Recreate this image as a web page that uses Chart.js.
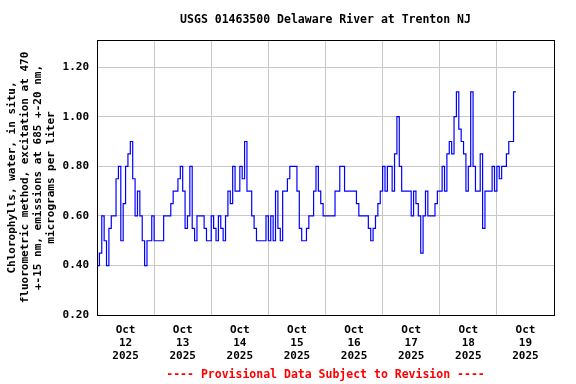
<!DOCTYPE html>
<html>
<head>
<meta charset="utf-8">
<script src="https://cdn.jsdelivr.net/npm/chart.js@4.4.0/dist/chart.umd.min.js"></script>
<style>
  body { margin: 0; background: #fff; }
  canvas { display: block; }
</style>
</head>
<body>
<canvas id="chart" width="576" height="384"></canvas>
<script>
// hourly readings, starting Oct 12 00:00
var oct12 = [0.4, 0.4, 0.45, 0.6, 0.5, 0.4, 0.55, 0.6, 0.6, 0.75, 0.8, 0.5, 0.65, 0.8, 0.85, 0.9, 0.75, 0.6, 0.7, 0.6, 0.5, 0.4, 0.5, 0.5];
var oct13 = [0.6, 0.5, 0.5, 0.5, 0.5, 0.6, 0.6, 0.6, 0.65, 0.7, 0.7, 0.75, 0.8, 0.7, 0.55, 0.6, 0.8, 0.55, 0.5, 0.6, 0.6, 0.6, 0.55, 0.5];
var oct14 = [0.5, 0.6, 0.55, 0.5, 0.6, 0.55, 0.5, 0.6, 0.7, 0.65, 0.8, 0.7, 0.7, 0.8, 0.75, 0.9, 0.7, 0.7, 0.6, 0.55, 0.5, 0.5, 0.5, 0.5];
var oct15 = [0.6, 0.5, 0.6, 0.5, 0.7, 0.55, 0.5, 0.7, 0.7, 0.75, 0.8, 0.8, 0.8, 0.7, 0.55, 0.5, 0.5, 0.55, 0.6, 0.6, 0.7, 0.8, 0.7, 0.65];
var oct16 = [0.6, 0.6, 0.6, 0.6, 0.6, 0.7, 0.7, 0.8, 0.8, 0.7, 0.7, 0.7, 0.7, 0.7, 0.65, 0.6, 0.6, 0.6, 0.6, 0.55, 0.5, 0.55, 0.6, 0.65];
var oct17 = [0.7, 0.8, 0.7, 0.8, 0.8, 0.7, 0.85, 1.0, 0.8, 0.7, 0.7, 0.7, 0.7, 0.6, 0.7, 0.65, 0.6, 0.45, 0.6, 0.7, 0.6, 0.6, 0.6, 0.65];
var oct18 = [0.7, 0.7, 0.8, 0.7, 0.85, 0.9, 0.85, 1.0, 1.1, 0.95, 0.9, 0.85, 0.7, 0.8, 1.1, 0.8, 0.7, 0.7, 0.85, 0.55, 0.7, 0.7, 0.7, 0.8];
var oct19 = [0.7, 0.8, 0.75, 0.8, 0.8, 0.85, 0.9, 0.9, 1.1];

var dayLabels = ["12", "13", "14", "15", "16", "17", "18", "19"];
var yTicks = [0.2, 0.4, 0.6, 0.8, 1.0, 1.2];

var chl = [].concat(oct12, oct13, oct14, oct15, oct16, oct17, oct18, oct19);
var points = chl.map(function (v, i) { return { x: i, y: v }; });

var mono = "'DejaVu Sans Mono', 'Liberation Mono', monospace";

var framePlugin = {
    id: "frame",
    afterDraw: function (chart) {
        var a = chart.chartArea;
        var ctx = chart.ctx;
        ctx.save();
        ctx.strokeStyle = "#000";
        ctx.lineWidth = 1;
        ctx.strokeRect(Math.round(a.left) + 0.5, Math.round(a.top) + 0.5,
            Math.round(a.right - a.left), Math.round(a.bottom - a.top));
        ctx.restore();
    }
};

var config = {
    type: "line",
    data: {
        datasets: [
            {
                data: points,
                borderColor: "#0000ff",
                borderWidth: 1.2,
                pointRadius: 0,
                stepped: "after",
                fill: false,
            },
        ],
    },
    options: {
        responsive: false,
        animation: false,
        layout: { padding: { left: 0, right: 22, top: 0, bottom: 0 } },
        plugins: {
            legend: { display: false },
            tooltip: { enabled: false },
            title: {
                display: true,
                text: "USGS 01463500 Delaware River at Trenton NJ",
                color: "#000",
                fullSize: false,
                font: { family: mono, size: 11.5, weight: "bold" },
                padding: { top: 13, bottom: 13 },
            },
            subtitle: {
                display: true,
                position: "bottom",
                text: "---- Provisional Data Subject to Revision ----",
                color: "#ff0000",
                fullSize: false,
                font: { family: mono, size: 11.5, weight: "bold" },
                padding: { top: 0, bottom: 2 },
            },
        },
        scales: {
            x: {
                type: "linear",
                min: 0,
                max: 192,
                afterBuildTicks: function (scale) {
                    var t = [];
                    for (var h = 0; h <= 192; h += 12) t.push({ value: h });
                    scale.ticks = t;
                },
                afterFit: function (scale) { scale.height = 53; },
                border: { display: false },
                grid: {
                    drawTicks: false,
                    color: function (ctx) {
                        return ctx.tick && ctx.tick.value % 24 === 0 ? "#c8c8c8" : "rgba(0,0,0,0)";
                    },
                },
                ticks: {
                    padding: 8,
                    autoSkip: false,
                    maxRotation: 0,
                    color: "#000",
                    font: { family: mono, size: 11, weight: "bold", lineHeight: 1.18 },
                    callback: function (v) {
                        if (v % 24 !== 12) return "";
                        return ["Oct", dayLabels[(v - 12) / 24], "2025"];
                    },
                },
            },
            y: {
                min: 0.2,
                max: 1.31,
                afterBuildTicks: function (scale) {
                    scale.ticks = yTicks.map(function (v) { return { value: v }; });
                },
                afterFit: function (scale) { scale.width = 97; },
                border: { display: false },
                grid: { drawTicks: false, color: "#c8c8c8" },
                ticks: {
                    padding: 8,
                    color: "#000",
                    font: { family: mono, size: 11, weight: "bold" },
                    callback: function (v) { return v.toFixed(2); },
                },
                title: {
                    display: true,
                    text: [
                        "Chlorophylls, water, in situ,",
                        "fluorometric method, excitation at 470",
                        "+-15 nm, emissions at 685 +-20 nm,",
                        "micrograms per liter",
                    ],
                    color: "#000",
                    font: { family: mono, size: 11, weight: "bold", lineHeight: 1.18 },
                    padding: { top: 5.5, bottom: 0 },
                },
            },
        },
    },
    plugins: [framePlugin],
};

var chlChart = new Chart(document.getElementById("chart").getContext("2d"), config);
</script>
</body>
</html>
